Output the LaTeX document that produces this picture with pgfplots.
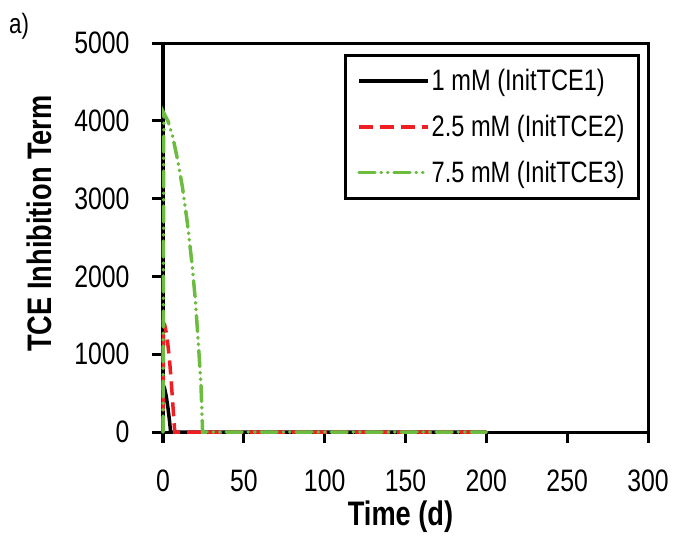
\documentclass[border=0pt]{standalone}
\usepackage{fontspec}
\setmainfont{Liberation Sans}[FakeStretch=0.8]
\usepackage{pgfplots}
\usetikzlibrary{calc}
\pgfplotsset{compat=1.18}
\definecolor{cred}{RGB}{240,30,35}
\definecolor{cgreen}{RGB}{108,188,64}
\begin{document}
\begin{tikzpicture}
\useasboundingbox (0bp,0bp) rectangle (675bp,-537bp);
\node[anchor=base west,font=\fontsize{28bp}{30bp}\selectfont,inner sep=0pt] at (9bp,-33bp) {a)};
\begin{axis}[
  at={(163bp,-432bp)}, anchor=south west,
  scale only axis, width=485bp, height=389bp,
  xmin=0, xmax=300, ymin=0, ymax=5000,
  xtick={0,50,...,300}, ytick={0,1000,...,5000},
  tick align=outside, xtick pos=bottom, ytick pos=left,
  major tick length=11bp,
  axis line style={line width=3bp},
  every tick/.style={black,line width=3bp},
  clip=false,
  /pgf/number format/assume math mode=true,
  scaled y ticks=false,
  yticklabel style={/pgf/number format/1000 sep={}},
  tick label style={font=\fontsize{31bp}{33bp}\selectfont},
  xticklabel style={yshift=-23bp},
  yticklabel style={xshift=-19bp},
  xlabel={\bfseries Time (d)},
  ylabel={\bfseries TCE Inhibition Term},
  label style={font=\fontsize{34bp}{36bp}\selectfont},
  xlabel style={at={($(axis description cs:0.5,0)+(-5bp,-93bp)$)}, anchor=base},
  ylabel style={at={($(axis description cs:0,0.5)+(-111bp,14bp)$)}, anchor=base, rotate=0},
  legend cell align=left,
  legend style={at={(0.9835,0.9717)}, anchor=north east,
    draw=black, line width=3bp, font=\fontsize{29.5bp}{31bp}\selectfont,
    row sep=19bp, inner xsep=12bp, inner ysep=12bp},
  legend image code/.code={\draw[#1] (0bp,0bp) -- (69bp,0bp);},
]
\addplot[black, line width=3.5bp] coordinates {
(0,0) (0.2,600) (1,560) (2,460) (3,320) (4,150) (4.7,0) (200,0)};
\addlegendentry{1 mM (InitTCE1)}
\addplot[cred, line width=3.5bp, dash pattern=on 14bp off 7bp] coordinates {
(0,0) (0.3,1400) (1,1380) (2,1280) (3,1130) (4,930) (5,680) (6,380) (7,80) (7.3,0) (200,0)};
\addlegendentry{2.5 mM (InitTCE2)}
\addplot[cgreen, line width=3.5bp, line cap=round, dash pattern=on 16bp off 6bp on 0.5bp off 6bp on 0.5bp off 6bp] coordinates {
(0,0) (0.5,4100) (3,4000) (6,3800) (9,3500) (12,3150) (15,2700) (18,2150) (20,1700) (22,1100) (23.5,600) (24.5,0) (200,0)};
\addlegendentry{7.5 mM (InitTCE3)}
\end{axis}
\end{tikzpicture}
\end{document}
